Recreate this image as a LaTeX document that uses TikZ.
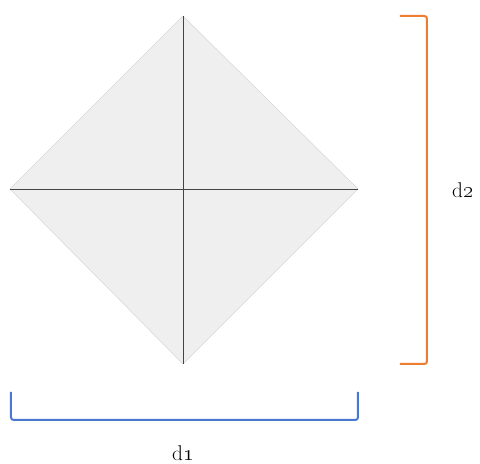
\documentclass[tikz,border=0pt]{standalone}
\usepackage{tikz}
\usetikzlibrary{positioning, calc}
\definecolor{shapefill}{HTML}{EFEFEF}
\definecolor{axisline}{HTML}{444444}
\definecolor{bracketone}{HTML}{4A78CF}
\definecolor{brackettwo}{HTML}{ED7D31}
\tikzset{
  rhombus/.style={fill=shapefill, draw=shapefill!90!black, line width=0.4pt},
  diagonal/.style={draw=axisline, line width=0.6pt},
  brace/.style={line width=1.5pt, rounded corners=2pt},
  dimlabel/.style={font=\fontsize{16}{18}\selectfont, inner sep=0pt},
}

\begin{document}
\begin{tikzpicture}[x=0.75pt, y=-0.75pt]

  \useasboundingbox (0,0) rectangle (480,464);

  % corners of the rhombus
  \coordinate (top) at (183,16);
  \coordinate (bottom) at (183,364);
  \coordinate (left) at (10,189);
  \coordinate (right) at (358,189);

  \fill[rhombus] (top) -- (right) -- (bottom) -- (left) -- cycle;
  \draw[diagonal] (top) -- (bottom);
  \draw[diagonal] (left) -- (right);

  % bracket for d2
  \coordinate (b2a) at (400,16);
  \coordinate (b2b) at (400,364);
  \draw[brace, brackettwo] (b2a) -| (427,190) |- (b2b);
  \node[dimlabel] (d2) at (463,190) {d\oldstylenums{2}};

  % bracket for d1
  \coordinate (b1a) at (11,392);
  \coordinate (b1b) at (358,392);
  \draw[brace, bracketone] (b1a) |- (184,420) -| (b1b);
  \node[dimlabel] (d1) at (183,453) {d\oldstylenums{1}};

\end{tikzpicture}
\end{document}
